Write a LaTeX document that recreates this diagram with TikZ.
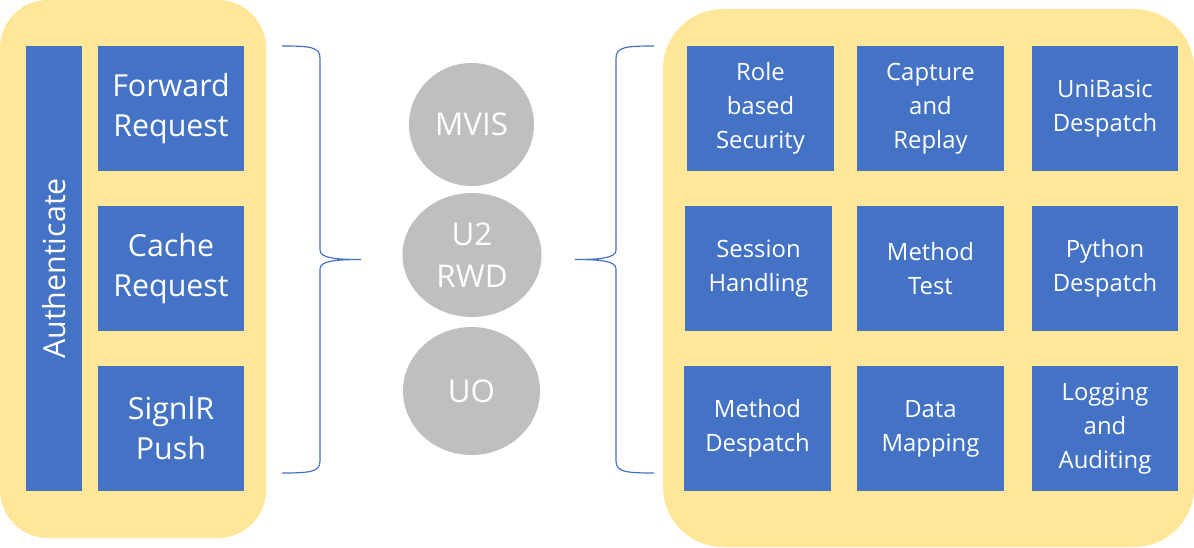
\documentclass[tikz,border=0pt]{standalone}
\usepackage{fontspec}
\setmainfont{Open Sans}
\usetikzlibrary{shapes.geometric}
\definecolor{panelyellow}{HTML}{FFE699}
\definecolor{boxblue}{HTML}{4472C4}
\definecolor{discgray}{HTML}{BFBFBF}
\begin{document}
\begin{tikzpicture}[x=0.75pt,y=-0.75pt,
	panel/.style={fill=panelyellow},
	lbox/.style={fill=boxblue,text=white,align=center,inner sep=0pt,
		minimum width=109.5pt,minimum height=93.75pt,
		font=\fontsize{22.8}{30}\selectfont},
	rbox/.style={fill=boxblue,text=white,align=center,inner sep=0pt,
		minimum width=110pt,minimum height=93.75pt,
		font=\fontsize{17.9}{25.7}\selectfont},
	disc/.style={ellipse,fill=discgray,text=white,align=center,inner sep=0pt,
		font=\fontsize{23.5}{31}\selectfont},
	brace/.style={draw=boxblue,line width=0.9pt}]
	\useasboundingbox (0,0) rectangle (1194,548);
	% panels
	\fill[panel,rounded corners=36pt] (0,0) rectangle (266,538);
	\fill[panel,rounded corners=45pt] (663,9) rectangle (1194,547);
	% left side
	\node[lbox,rotate=90,minimum width=333.75pt,minimum height=42pt] (auth) at (54,268.5) {Authenticate};
	\node[lbox] (fwd) at (171,108.5) {Forward\\Request};
	\node[lbox] (cache) at (171,268.5) {Cache\\Request};
	\node[lbox] (signlr) at (171,428.5) {SignlR\\Push};
	% braces
	\draw[brace] (282,46) .. controls (310,46) and (320,47) .. (320,58) -- (320,250)
		.. controls (320,258) and (335,259.5) .. (361,259.5)
		.. controls (335,259.5) and (320,261) .. (320,269) -- (320,461)
		.. controls (320,472) and (310,473) .. (282,473);
	\draw[brace] (654,46) .. controls (626,46) and (616,47) .. (616,58) -- (616,250)
		.. controls (616,258) and (601,259.5) .. (575,259.5)
		.. controls (601,259.5) and (616,261) .. (616,269) -- (616,461)
		.. controls (616,472) and (626,473) .. (654,473);
	% middle
	\node[disc,minimum width=93.75pt,minimum height=92.25pt] (mvis) at (471.5,124.5) {MVIS};
	\node[disc,minimum width=104.25pt,minimum height=93pt] (u2) at (472,255) {U2\\RWD};
	\node[disc,minimum width=102.75pt,minimum height=96pt] (uo) at (471.5,391) {UO};
	% right side
	\node[rbox] (role) at (760.5,108.5) {Role\\based\\Security};
	\node[rbox] (capture) at (930.5,108.5) {Capture\\and\\Replay};
	\node[rbox] (unibasic) at (1105,108.5) {UniBasic\\Despatch};
	\node[rbox] (session) at (758.5,268.5) {Session\\Handling};
	\node[rbox] (mtest) at (930.5,268.5) {Method\\Test};
	\node[rbox] (python) at (1105,268.5) {Python\\Despatch};
	\node[rbox] (mdesp) at (757.5,428.5) {Method\\Despatch};
	\node[rbox] (datamap) at (930.5,428.5) {Data\\Mapping};
	\node[rbox] (logging) at (1105,428.5) {Logging\\and\\Auditing};
\end{tikzpicture}
\end{document}
